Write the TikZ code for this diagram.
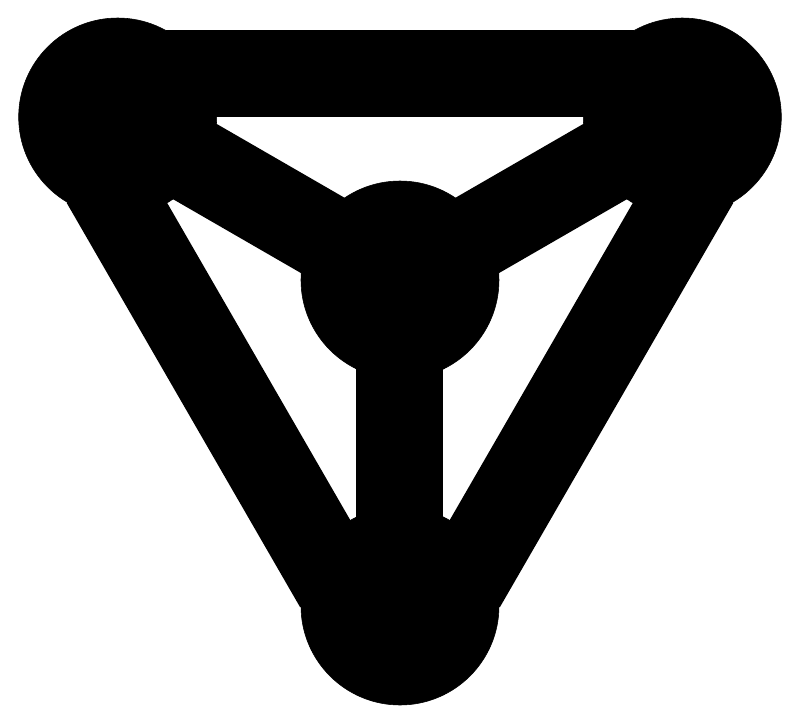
\documentclass[tikz,border=0pt]{standalone}
\usetikzlibrary{backgrounds}
\begin{document}
\begin{tikzpicture}[vertex/.style={shape=circle,draw=black,fill=black,inner sep=0pt,minimum size=4.95cm},
    edge/.style={draw=black,-,line width=2.175cm}]
    \useasboundingbox (-10,7) rectangle (10,-11);
    \node[vertex] (c) at (0,0){};
    \foreach \a/\ang in {0/150, 1/30, 2/-90}
        {\node[vertex] (v\a) at (\ang:8.15){};}

    \begin{scope}[on background layer]
    \foreach \a in {0,1,2}
        {\draw [edge] (c.center) to (v\a.center);}
    \foreach \a/\b/\m in {0/1/90, 1/2/-30, 2/0/210}
        {\draw [edge,shorten <=1.22cm,shorten >=1.22cm] ([shift={(\m:1.09)}]v\a.center) to ([shift={(\m:1.09)}]v\b.center);}
    \end{scope}

    \end{tikzpicture}
\end{document}
